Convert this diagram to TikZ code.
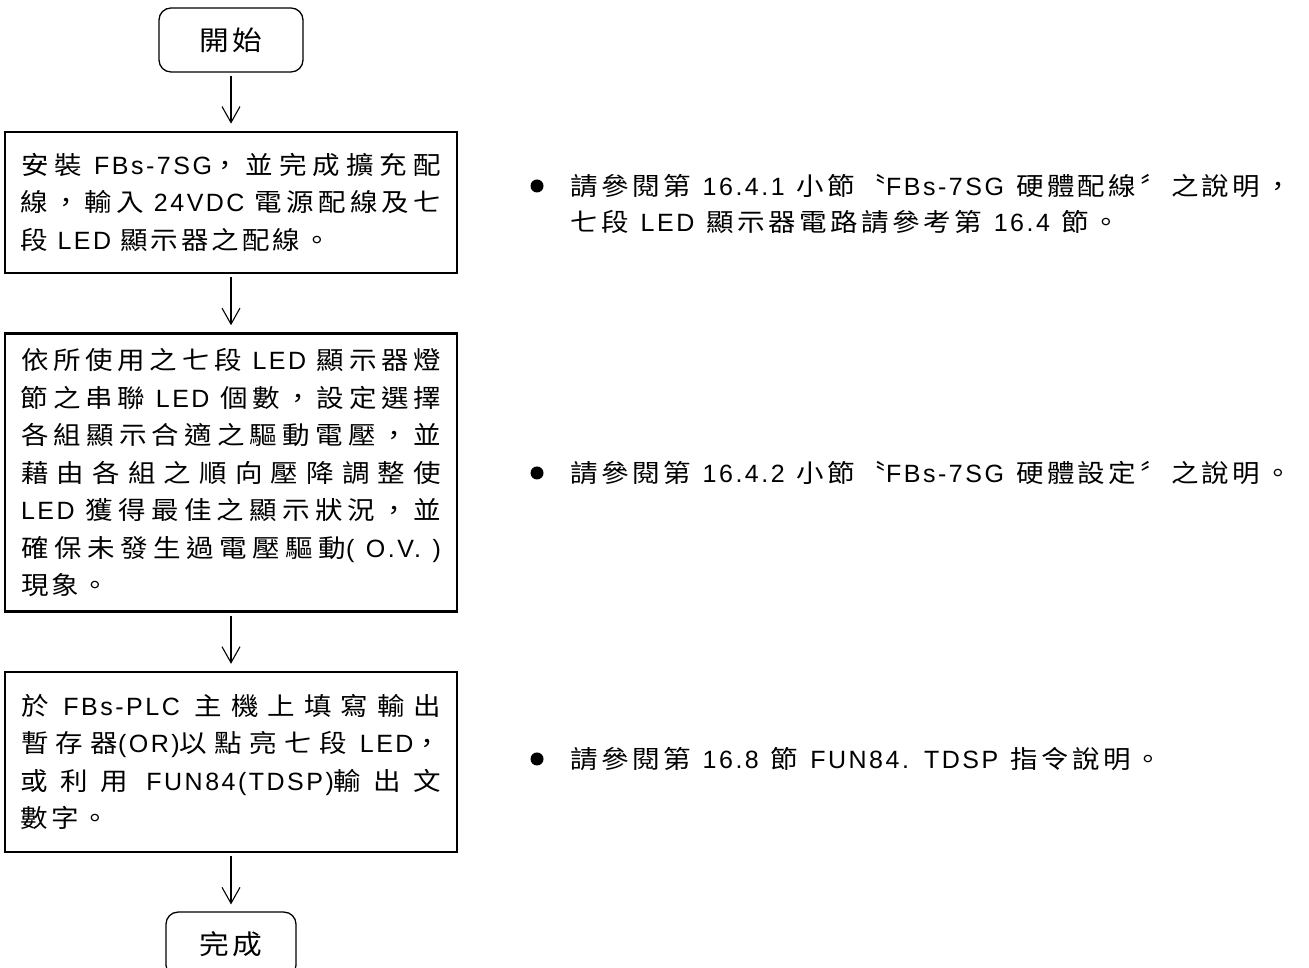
\documentclass[tikz,border=0pt]{standalone}
\usepackage{fontspec}
\setmainfont{Noto Sans CJK TC}[FakeStretch=1.1]
\newfontfamily\lat{Liberation Sans}[LetterSpace=10]
\usetikzlibrary{positioning, arrows.meta}

% extra (stretchable) space between two CJK characters
\newskip\cjkgap
\newcount\cjkchar
\newXeTeXintercharclass\cjkclass
\cjkchar="3000
\loop\XeTeXcharclass\cjkchar=\cjkclass
\ifnum\cjkchar<"9FFF \advance\cjkchar by 1 \repeat
\cjkchar="FF00
\loop\XeTeXcharclass\cjkchar=\cjkclass
\ifnum\cjkchar<"FFEF \advance\cjkchar by 1 \repeat
\XeTeXinterchartoks\cjkclass\cjkclass={\hskip\cjkgap\relax}
\XeTeXinterchartokenstate=1

\newcommand\boxfont{\fontsize{25}{37.5}\selectfont\setlength\cjkgap{3pt plus 10pt minus 1pt}%
  \spaceskip=9pt plus 10pt minus 1pt\tolerance=9999\relax}
\newcommand\termfont{\fontsize{27}{37.5}\selectfont\setlength\cjkgap{4pt}}
\newcommand\notefont{\fontsize{25}{36}\selectfont\setlength\cjkgap{3.5pt}\spaceskip=12pt\relax}

\tikzset{
    >={Straight Barb[length=16pt,width=18pt]}, % open arrow heads
    node distance=58pt, % gap between two steps
    terminal/.style={draw, rounded corners=12pt, line width=1.3pt, minimum width=144pt, minimum height=64pt, font=\termfont},
    stepbox/.style={draw, line width=2.6pt, minimum width=452pt, text width=420pt, align=justify, font=\boxfont},
    flow/.style={->, line width=1.1pt, shorten <=3pt, shorten >=7pt},
    dot/.style={circle, fill, inner sep=0pt, minimum size=13pt},
    note/.style={anchor=west, inner sep=0pt, align=left, font=\notefont},
}

\begin{document}
\begin{tikzpicture}[x=1pt, y=1pt]
\useasboundingbox (0,0) rectangle (1309,968);
\node[terminal] (start) at (231,928) {開始};
\node[stepbox, minimum height=141pt, below=of start] (wiring) {%
安裝 {\lat FBs-7SG}，並完成擴充配\break
線，輸入 {\lat 24VDC} 電源配線及七\break
段 {\lat LED} 顯示器之配線。};
\node[stepbox, minimum height=278pt, below=of wiring] (setting) {%
依所使用之七段 {\lat LED} 顯示器燈\break
節之串聯 {\lat LED} 個數，設定選擇\break
各組顯示合適之驅動電壓，並\break
藉由各組之順向壓降調整使\break
{\lat LED} 獲得最佳之顯示狀況，並\break
確保未發生過電壓驅動{\lat ( O.V. )}\break
現象。};
\node[stepbox, minimum height=180pt, below=of setting] (program) {%
於 {\lat FBs-PLC} 主機上填寫輸出\break
暫存器{\lat (OR)}以點亮七段 {\lat LED}，\break
或利用 {\lat FUN84(TDSP)}輸出文\break
數字。\par\vspace{8pt}};
\node[terminal, minimum width=130pt, minimum height=65pt, below=of program] (done) {完成};

\draw[flow] (start) -- (wiring);
\draw[flow] (wiring) -- (setting);
\draw[flow] (setting) -- (program);
\draw[flow] (program) -- (done);

% notes on the right
\node[dot] (dot1) at (537,782) {};
\node[note] (note1) at (570,764) {請參閱第 {\lat 16.4.1} 小節〝{\lat FBs-7SG} 硬體配線〞之說明，\\七段 {\lat LED} 顯示器電路請參考第 {\lat 16.4} 節。};
\node[dot] (dot2) at (537,495) {};
\node[note] (note2) at (570,495) {請參閱第 {\lat 16.4.2} 小節〝{\lat FBs-7SG} 硬體設定〞之說明。};
\node[dot] (dot3) at (537,209) {};
\node[note] (note3) at (570,209) {請參閱第 {\lat 16.8} 節 {\lat FUN84. TDSP} 指令說明。};
\end{tikzpicture}
\end{document}
